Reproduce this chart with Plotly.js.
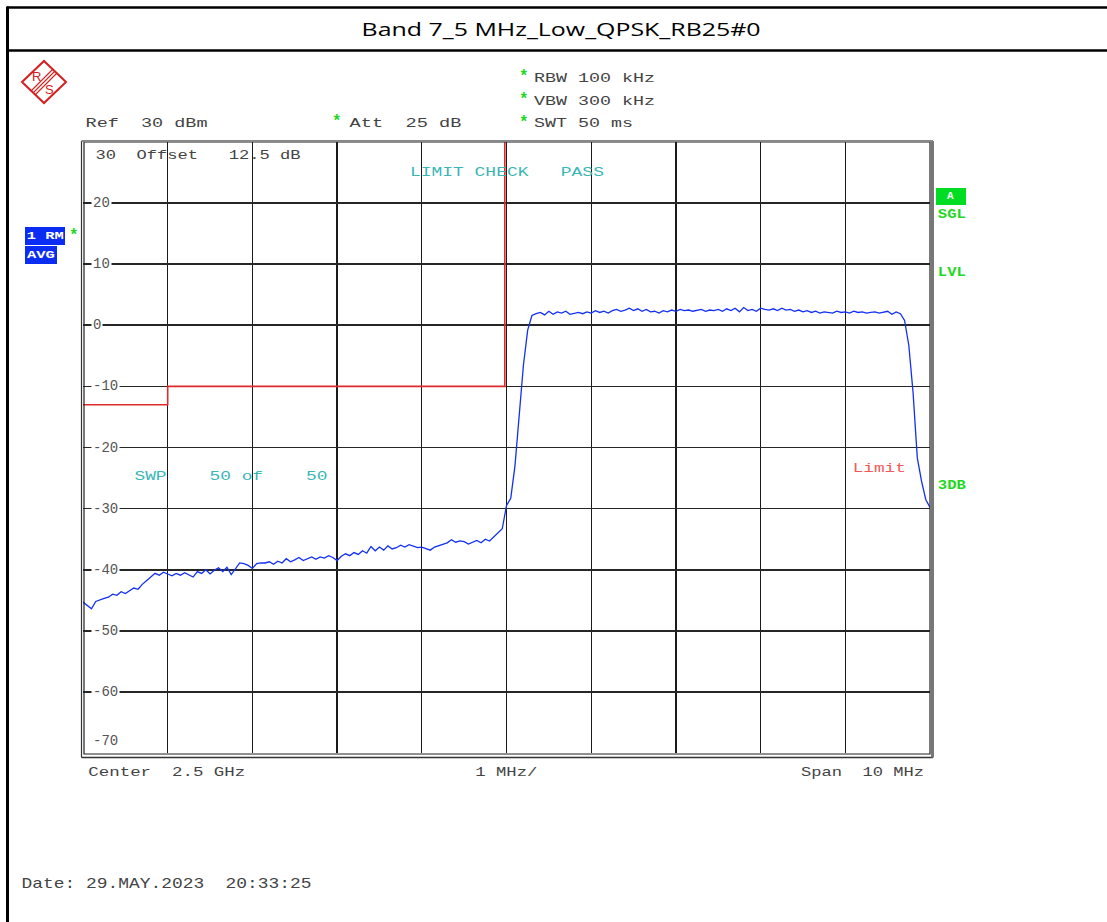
<!DOCTYPE html>
<html>
<head>
<meta charset="utf-8">
<script src="https://cdn.plot.ly/plotly-3.0.1.min.js"></script>
<style>
  html, body { margin: 0; padding: 0; background: #fff; }
  #chart { width: 1107px; height: 922px; }
</style>
</head>
<body>
<div id="chart"></div>
<script>
// ---------------- data ----------------
const chartTitle = "Band 7_5 MHz_Low_QPSK_RB25#0";
const sweepStartMHz = 2495;     // Center 2.5 GHz, Span 10 MHz
const sweepStepMHz = 0.05;
const levelDbm = [
  -45.3, -45.8, -46.4, -45.2, -44.9, -44.7, -44.5, -44.0, -44.2, -43.6,
  -43.9, -43.5, -43.0, -43.2, -42.4, -41.8, -41.2, -40.6, -40.9, -40.4,
  -40.7, -41.0, -40.6, -40.9, -40.5, -40.8, -41.2, -40.3, -40.6, -40.0,
  -40.7, -40.1, -39.7, -40.3, -39.6, -40.8, -39.8, -38.9, -39.0, -39.3,
  -39.8, -39.0, -38.9, -38.9, -38.7, -39.1, -38.6, -38.9, -38.2, -38.7,
  -38.4, -38.0, -38.5, -38.2, -37.9, -38.3, -37.9, -38.1, -37.7, -38.0,
  -38.5, -37.8, -37.4, -37.7, -37.2, -37.5, -36.9, -37.3, -36.2, -36.9,
  -36.3, -36.8, -36.1, -36.6, -36.4, -36.0, -36.3, -35.9, -36.2, -36.4,
  -36.3, -36.5, -36.8, -36.3, -36.1, -35.8, -35.6, -35.1, -35.5, -35.3,
  -35.4, -35.8, -35.5, -35.2, -35.6, -35.0, -35.3, -34.6, -34.0, -33.3,
  -29.5, -28.3, -23.0, -14.8, -6.5, -0.8, 1.6,
  1.9, 2.1, 1.7, 2.3, 1.8, 2.2, 2.0, 2.3, 1.8, 2.0,
  2.1, 1.9, 2.2, 2.0, 2.4, 2.1, 2.3, 2.0, 2.4, 2.6,
  2.3, 2.5, 2.8, 2.4, 2.7, 2.3, 2.6, 2.2, 2.3, 2.0,
  2.4, 2.2, 2.5, 2.3, 2.6, 2.4, 2.5, 2.3, 2.5, 2.6,
  2.3, 2.5, 2.4, 2.6, 2.3, 2.7, 2.4, 2.8, 2.2, 2.9,
  2.4, 2.6, 2.3, 2.8, 2.6, 2.5, 2.7, 2.4, 2.8, 2.5,
  2.6, 2.3, 2.5, 2.2, 2.4, 2.1, 2.3, 2.0, 2.2, 2.1,
  2.0, 2.3, 2.1, 2.2, 2.0, 2.3, 2.1, 2.2, 2.0, 2.1,
  2.2, 2.0, 2.1, 2.3, 1.8, 2.2, 1.9,
  0.8, -3.3, -11.0, -21.7, -25.5, -28.5, -29.8
];
const limitFreqMHz = [2495, 2496, 2496, 2499.98, 2499.98];
const limitDbm = [-13, -13, -10, -10, 30];
const yTickValues = [20, 10, 0, -10, -20, -30, -40, -50, -60];
const yTickLabels = ["20", "10", "0", "-10", "-20", "-30", "-40", "-50", "-60"];
const NB = "\u00a0";

// ---------------- geometry helpers ----------------
const FIG_W = 1107, FIG_H = 922;
const PL = 83, PT = 142, PW = 847, PH = 611;
const px = x => (x - PL) / PW;
const py = y => (PT + PH - y) / PH;

const MONO = "Liberation Mono, Courier New, monospace";
const TXT = "#444";
const GREEN = "#1fd81f";
const TEAL = "#3bb6b6";
const BLUE = "#0b2cf2";

const sweepFreq = levelDbm.map((_, i) => sweepStartMHz + i * sweepStepMHz);

const annotations = [];
const widths = [];
function txt(s, x0, x1, yc, size, color, extra) {
  const a = Object.assign({
    text: s, xref: "paper", yref: "paper",
    x: px((x0 + x1) / 2), y: py(yc), xanchor: "center", yanchor: "middle",
    showarrow: false, font: { family: MONO, size: size, color: color }
  }, extra || {});
  annotations.push(a);
  widths.push(x1 - x0);
}
function star(xc, yc) {
  txt("*", xc - 4, xc + 4, yc, 16, GREEN, { font: { family: MONO, size: 16, color: GREEN, weight: "bold" } });
  widths[widths.length - 1] = null;
}

// title
txt(chartTitle, 361, 760, 29, 19, "#000", { font: { family: "Open Sans, Noto Sans, sans-serif", size: 19, color: "#000" } });
// header texts
txt("Ref" + NB + NB + "30" + NB + "dBm", 85, 207, 124, 13.5, TXT);
star(337, 122);
txt("Att" + NB + NB + "25" + NB + "dB", 349, 461, 124, 13.5, TXT);
[["RBW 100 kHz", 655, 78], ["VBW 300 kHz", 655, 101], ["SWT 50 ms", 633, 124]].forEach(r => {
  star(524, r[2] - 1);
  txt(r[0].replace(/ /g, NB), 534, r[1], r[2], 13.5, TXT);
});
// in-plot texts
txt("30" + NB + NB + "Offset" + NB + NB + NB + "12.5" + NB + "dB", 95, 300, 155, 13.5, TXT);
txt("LIMIT" + NB + "CHECK" + NB + NB + NB + "PASS", 410, 604, 172, 13.5, TEAL);
txt("SWP" + NB.repeat(4) + "50" + NB + "of" + NB.repeat(4) + "50", 134, 327, 476, 13.5, TEAL);
txt("Limit", 853, 906, 468, 13.5, "#f25a5a");
// right side status
txt("A", 936, 966, 196, 11, "#fff", { font: { family: MONO, size: 11, color: "#fff", weight: "bold" } });
widths[widths.length - 1] = null;
txt("SGL", 938, 966, 215, 12, GREEN, { font: { family: MONO, size: 12, color: GREEN, weight: "bold" } });
txt("LVL", 938, 966, 273, 12, GREEN, { font: { family: MONO, size: 12, color: GREEN, weight: "bold" } });
txt("3DB", 938, 966, 486, 12, GREEN, { font: { family: MONO, size: 12, color: GREEN, weight: "bold" } });
// left status
txt("1" + NB + "RM", 27, 64, 236, 11, "#fff", { font: { family: MONO, size: 11, color: "#fff", weight: "bold" } });
star(74, 236);
txt("AVG", 27, 55, 255, 11, "#fff", { font: { family: MONO, size: 11, color: "#fff", weight: "bold" } });
// bottom
txt("Center" + NB + NB + "2.5" + NB + "GHz", 88, 245, 772, 13.5, TXT);
txt("1" + NB + "MHz/", 475, 537, 772, 13.5, TXT);
txt("Span" + NB + NB + "10" + NB + "MHz", 801, 924, 772, 13.5, TXT);
txt("Date:" + NB + "29.MAY.2023" + NB + NB + "20:33:25", 21, 311, 884, 15, TXT);

// logo letters
txt("R", 31, 42, 76, 13, "#d42020", { font: { family: "Liberation Sans, sans-serif", size: 13, color: "#d42020" } });
widths[widths.length - 1] = null;
txt("S", 44, 55, 89, 13, "#d42020", { font: { family: "Liberation Sans, sans-serif", size: 13, color: "#d42020" } });
widths[widths.length - 1] = null;

// y tick labels (drawn on the grid, with a white patch behind)
yTickValues.forEach((v, i) => {
  annotations.push({
    text: yTickLabels[i], xref: "paper", yref: "y", x: px(91), y: v,
    xanchor: "left", yanchor: "middle", showarrow: false, bgcolor: "#fff", borderpad: 1,
    font: { family: MONO, size: 14, color: "#555" }
  });
  widths.push(null);
});
annotations.push({
  text: "-70", xref: "paper", yref: "paper", x: px(91), y: py(741), xanchor: "left", yanchor: "middle",
  showarrow: false, font: { family: MONO, size: 14, color: "#555" }
});
widths.push(null);

// ---------------- shapes ----------------
const shapes = [];
function line(x0, y0, x1, y1, color, width) {
  shapes.push({ type: "line", xref: "paper", yref: "paper", x0: px(x0), y0: py(y0), x1: px(x1), y1: py(y1),
    line: { color: color, width: width }, layer: "above" });
}
function rect(x0, y0, x1, y1, fill, color, width) {
  shapes.push({ type: "rect", xref: "paper", yref: "paper", x0: px(x0), y0: py(y0), x1: px(x1), y1: py(y1),
    fillcolor: fill, line: { color: color || fill, width: width || 0 }, layer: "above" });
}
// outer page frame
line(7, 7.5, 1107, 7.5, "#000", 2.5);
line(7, 50.5, 1107, 50.5, "#000", 2.5);
line(7.5, 6.5, 7.5, 922, "#000", 3);
// plot frame (double)
rect(84, 142, 930, 754, "rgba(0,0,0,0)", "#222", 1.2);
line(81.5, 141, 81.5, 757.5, "#333", 1.2);
line(81.5, 757.5, 933, 757.5, "#333", 1.5);
line(932.5, 141, 932.5, 757.5, "#777", 3);
line(81.5, 141, 933, 141, "#888", 2);
// status boxes
rect(936, 188, 966, 205, "#00dd22");
rect(25, 227, 65, 245, BLUE);
rect(25, 246, 57, 264, BLUE);
// R&S logo
shapes.push({ type: "path", xref: "paper", yref: "paper",
  path: `M ${px(22)} ${py(82)} L ${px(44)} ${py(61)} L ${px(66)} ${py(82)} L ${px(44)} ${py(103)} Z`,
  line: { color: "#d42020", width: 2 }, fillcolor: "rgba(0,0,0,0)", layer: "above" });
[-2, 0, 2].forEach(d => line(55 + d, 71 + d, 33 + d, 93 + d, "#d42020", 1.1));

// ---------------- traces ----------------
const traces = [
  { x: limitFreqMHz, y: limitDbm, mode: "lines", line: { color: "#e02a2a", width: 1.6 },
    hoverinfo: "skip", showlegend: false },
  { x: sweepFreq, y: levelDbm, mode: "lines", line: { color: "#1230f2", width: 1.3 },
    hoverinfo: "skip", showlegend: false }
];

const layout = {
  width: FIG_W, height: FIG_H,
  margin: { l: PL, r: FIG_W - PL - PW, t: PT, b: FIG_H - PT - PH, pad: 0 },
  paper_bgcolor: "#fff", plot_bgcolor: "#fff",
  showlegend: false,
  xaxis: { range: [2495, 2505], dtick: 1, tick0: 2495, showgrid: true, gridcolor: "#1a1a1a", gridwidth: 1.3,
    zeroline: false, showticklabels: false, ticks: "", showline: false, fixedrange: true },
  yaxis: { range: [-70, 30], dtick: 10, tick0: -70, showgrid: true, gridcolor: "#262626", gridwidth: 1.6,
    zeroline: false, showticklabels: false, ticks: "", showline: false, fixedrange: true },
  annotations: annotations,
  shapes: shapes
};

Plotly.newPlot("chart", traces, layout, { displayModeBar: false, staticPlot: true }).then(gd => {
  gd.querySelectorAll("g.annotation").forEach(g => {
    const i = +g.getAttribute("data-index");
    const w = widths[i];
    if (w) {
      const t = g.querySelector("text.annotation-text");
      if (t) {
        t.setAttribute("textLength", w);
        t.setAttribute("lengthAdjust", "spacingAndGlyphs");
      }
    }
  });
});
</script>
</body>
</html>
